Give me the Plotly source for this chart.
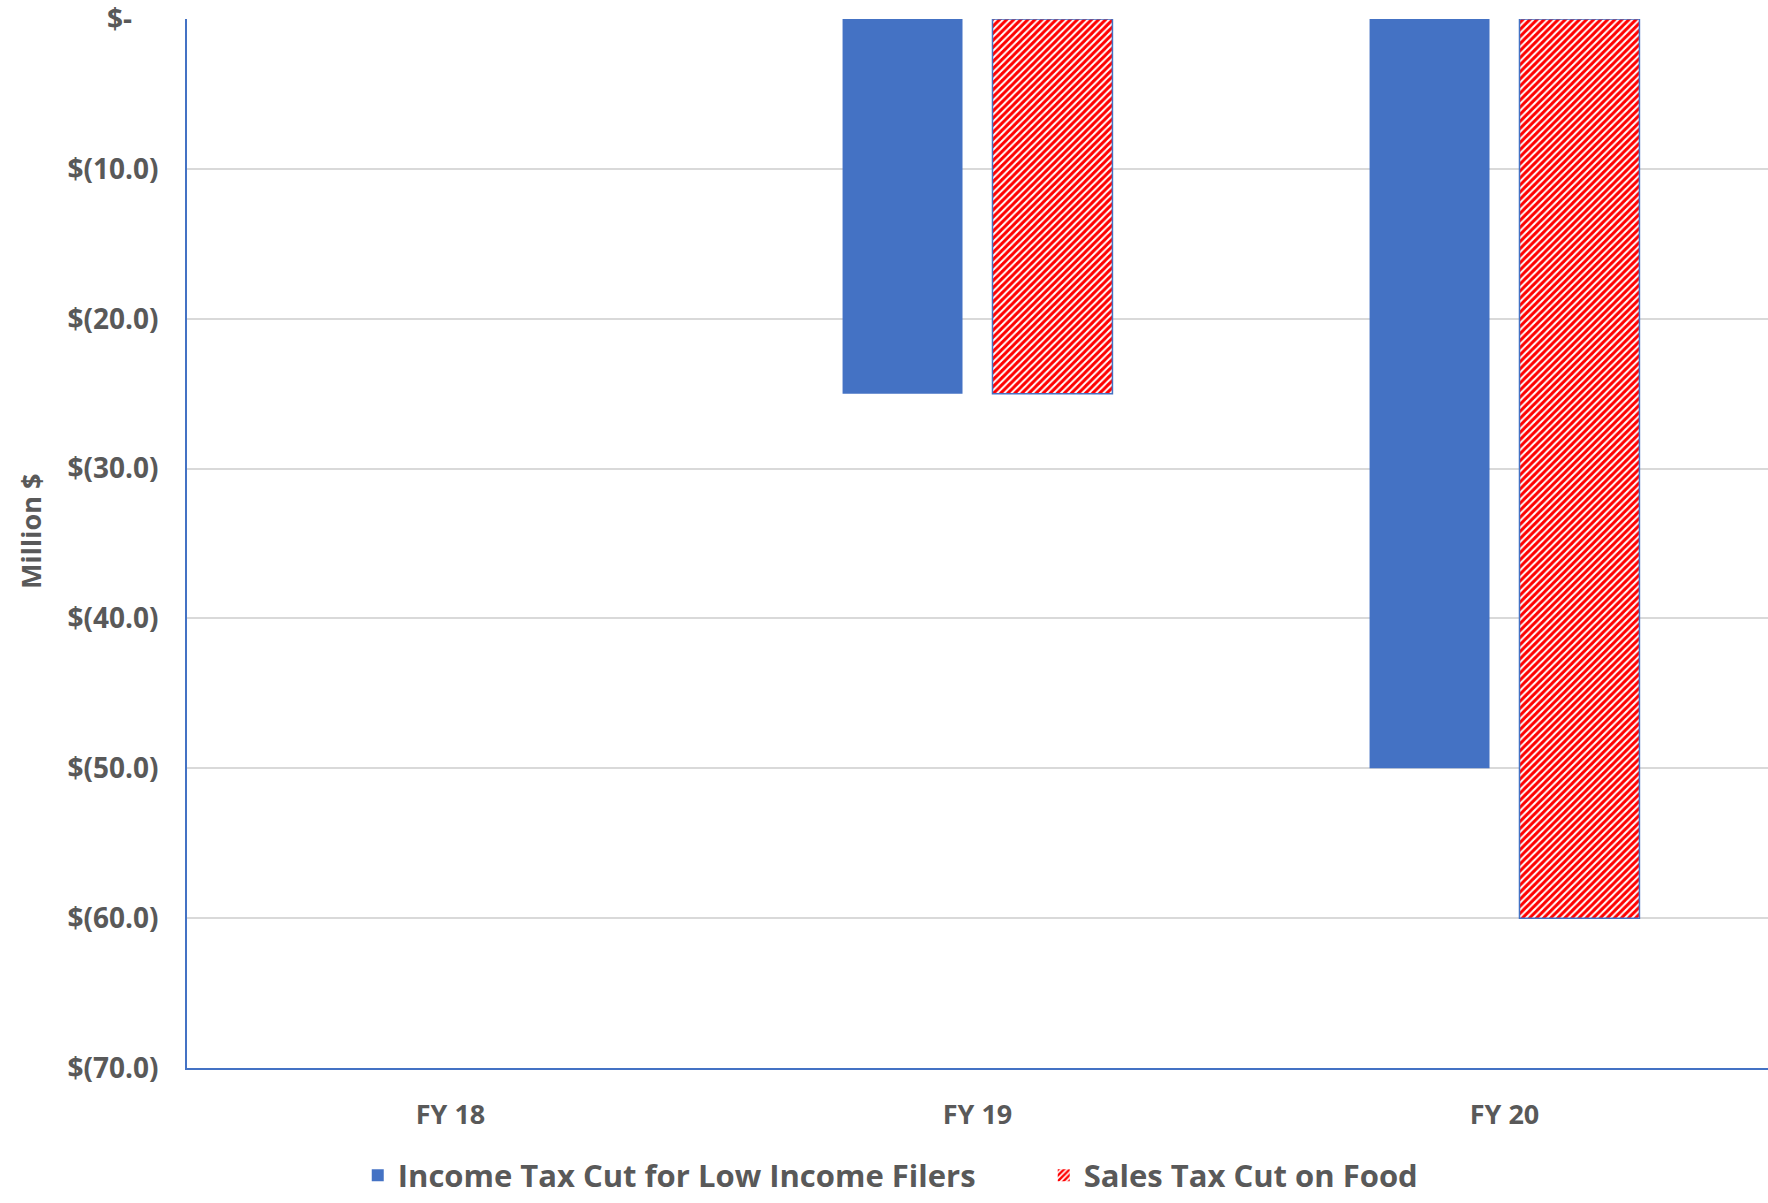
import plotly.graph_objects as go

# Fiscal-year revenue impact of the two tax cuts (million $)
years = ["FY 18", "FY 19", "FY 20"]
income_tax_cut = [0, -25, -50]
sales_tax_cut = [0, -25, -60]

tick_vals = [0, -10, -20, -30, -40, -50, -60, -70]
tick_text = ["$-\u00a0\u00a0\u00a0\u2009", "$(10.0)", "$(20.0)", "$(30.0)",
             "$(40.0)", "$(50.0)", "$(60.0)", "$(70.0)"]

BLUE = "#4472C4"
GREY_TEXT = "#595959"
FONT = "Open Sans"

# no outline on empty (zero) bars
outline_w = [0 if v == 0 else 1.5 for v in sales_tax_cut]

fig = go.Figure()
fig.add_trace(go.Bar(
    x=years, y=income_tax_cut,
    name="Income Tax Cut for Low Income Filers",
    marker=dict(color=BLUE, line=dict(width=0)),
))
fig.add_trace(go.Bar(
    x=years, y=sales_tax_cut,
    name="Sales Tax Cut on Food",
    marker=dict(
        color="white",
        line=dict(color=BLUE, width=outline_w),
        pattern=dict(shape="/", fgcolor="#FF0000", fgopacity=1,
                     size=5, solidity=0.6, fillmode="overlay"),
    ),
))

fig.update_layout(
    width=1768, height=1203,
    margin=dict(l=187, r=0, t=19, b=131),
    paper_bgcolor="white", plot_bgcolor="white",
    barmode="group", bargap=0.431, bargroupgap=0.2,
    font=dict(family=FONT, color=GREY_TEXT, size=27, weight=700),
    showlegend=True,
    legend=dict(
        orientation="h", x=0.108, xanchor="left", y=-0.1026, yanchor="middle",
        font=dict(family=FONT, size=31, color=GREY_TEXT, weight=700),
        entrywidth=641, entrywidthmode="pixels", traceorder="normal",
    ),
    xaxis=dict(
        range=[-0.5, 2.5], showgrid=False, zeroline=False,
        showline=True, linecolor=BLUE, linewidth=2,
        ticks="", ticklabelstandoff=22,
        tickfont=dict(family=FONT, size=27, color=GREY_TEXT, weight=700),
    ),
    yaxis=dict(
        range=[-70, 0], tickvals=tick_vals, ticktext=tick_text,
        showgrid=True, gridcolor="#D9D9D9", gridwidth=2,
        zeroline=False, showline=True, linecolor=BLUE, linewidth=2,
        ticks="", ticklabelstandoff=21, ticklabeloverflow="allow",
        tickfont=dict(family=FONT, size=28, color=GREY_TEXT, weight=700),
    ),
    annotations=[dict(
        text="Million $", textangle=-90, showarrow=False,
        xref="paper", yref="paper", x=-0.099, y=0.5115,
        xanchor="center", yanchor="middle",
        font=dict(family=FONT, size=27, color=GREY_TEXT, weight=700),
    )],
)

fig.write_html("out.html")
